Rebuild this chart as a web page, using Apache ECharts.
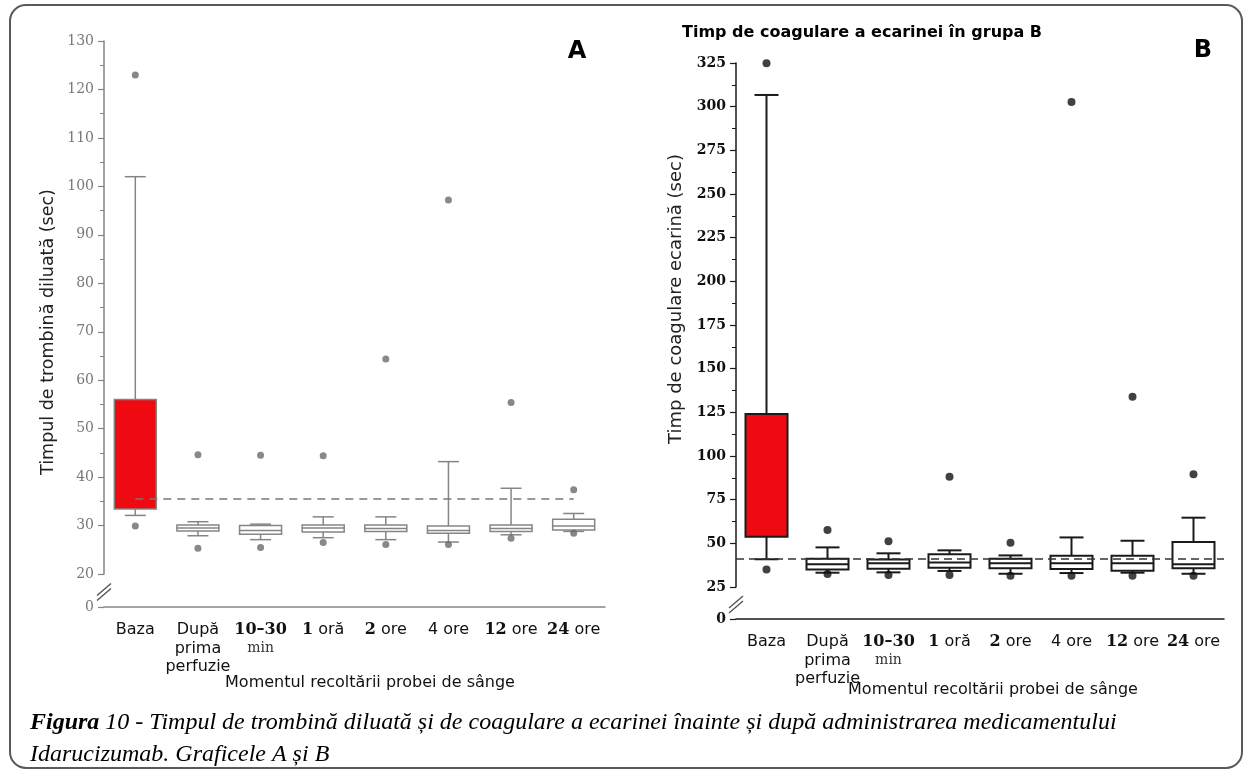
<!DOCTYPE html>
<html><head><meta charset="utf-8">
<script src="https://cdn.jsdelivr.net/npm/echarts@6/dist/echarts.min.js"></script>
<style>html,body{margin:0;padding:0;background:#fff}#c{width:1247px;height:773px}</style>
</head><body><div id="c"></div>
<script>
// ---------- data ----------
const categories = ['Baza', 'După prima perfuzie', '10–30 min', '1 oră', '2 ore', '4 ore', '12 ore', '24 ore'];

// Panel A – Timpul de trombină diluată (sec)
const aLow    = [32.1, 27.9, 27.1, 27.5, 27.1, 26.6, 28.1, 28.8];
const aQ1     = [33.4, 28.9, 28.2, 28.7, 28.8, 28.4, 28.8, 29.1];
const aMedian = [null, 29.5, 29.0, 29.5, 29.4, 29.0, 29.4, 29.9];
const aQ3     = [56.0, 30.1, 30.0, 30.1, 30.1, 29.9, 30.1, 31.3];
const aHigh   = [102.0, 30.8, 30.3, 31.8, 31.8, 43.2, 37.7, 32.5];
const aOutliers = [[0, 123], [0, 29.9], [1, 44.6], [1, 25.3], [2, 44.5], [2, 25.5], [3, 44.4], [3, 26.5],
                   [4, 64.4], [4, 26.1], [5, 97.2], [5, 26.1], [6, 55.4], [6, 27.4], [7, 37.4], [7, 28.4]];
const aReference = 35.5;

// Panel B – Timp de coagulare ecarină (sec)
const bLow    = [40.9, 33.2, 33.4, 34.2, 32.6, 33.0, 33.2, 32.6];
const bQ1     = [53.8, 35.1, 35.5, 36.0, 35.7, 35.3, 34.3, 35.7];
const bMedian = [null, 38.0, 38.6, 39.0, 38.6, 38.6, 38.6, 38.0];
const bQ3     = [124.0, 41.2, 40.8, 43.7, 41.2, 42.9, 42.9, 50.8];
const bHigh   = [306.7, 47.7, 44.3, 46.0, 43.1, 53.4, 51.5, 64.7];
const bOutliers = [[0, 324.8], [0, 35.1], [1, 57.6], [1, 32.4], [2, 51.2], [2, 31.9], [3, 88.2], [3, 31.9],
                   [4, 50.4], [4, 31.5], [5, 302.7], [5, 31.5], [6, 134.0], [6, 31.5], [7, 89.5], [7, 31.5]];
const bReference = 41.4;

// axis ranges
const aAxis = { min: 0, max: 130, interval: 10, breakStart: 0, breakEnd: 20, gap: 6.8 };
const bAxis = { min: 0, max: 325, interval: 25, breakStart: 0, breakEnd: 25, gap: 18.3 };

// ---------- style ----------
const RED = '#ee0a10';
const BASE_INDEX = 0;
const GA = { left: 104, top: 41, width: 501, height: 566 };
const GB = { left: 736, top: 63, width: 488, height: 556 };
const A_COL = '#858585', B_COL = '#1a1a1a';

function boxRows(lo, q1, md, q3, hi) {
  return lo.map((v, i) => [i, lo[i], q1[i], md[i] == null ? NaN : md[i], q3[i], hi[i]]);
}

function makeBox(cfg) {
  return function (params, api) {
    const i = api.value(0);
    const p = d => api.coord([i, api.value(d)]);
    const lo = p(1), q1 = p(2), q3 = p(4), hi = p(5);
    const cx = lo[0], hb = cfg.boxW / 2, hc = cfg.capW / 2;
    const ls = { stroke: cfg.color, lineWidth: cfg.lw, fill: null };
    const ch = [
      { type: 'line', shape: { x1: cx, y1: hi[1], x2: cx, y2: q3[1] }, style: ls },
      { type: 'line', shape: { x1: cx, y1: q1[1], x2: cx, y2: lo[1] }, style: ls },
      { type: 'line', shape: { x1: cx - hc, y1: hi[1], x2: cx + hc, y2: hi[1] }, style: ls },
      { type: 'line', shape: { x1: cx - hc, y1: lo[1], x2: cx + hc, y2: lo[1] }, style: ls },
      { type: 'rect', shape: { x: cx - hb, y: q3[1], width: 2 * hb, height: q1[1] - q3[1] },
        style: { fill: i === BASE_INDEX ? RED : '#fff', stroke: cfg.color, lineWidth: cfg.lw } }
    ];
    const m = api.value(3);
    if (!isNaN(m)) {
      const mp = p(3);
      ch.push({ type: 'line', shape: { x1: cx - hb, y1: mp[1], x2: cx + hb, y2: mp[1] }, style: ls });
    }
    return { type: 'group', children: ch };
  };
}

const labelMap = {
  'Baza': 'Baza',
  'După prima perfuzie': 'După\nprima\nperfuzie',
  '10–30 min': '{b|10–30}\n{m|min}',
  '1 oră': '{b|1}{s| oră}',
  '2 ore': '{b|2}{s| ore}',
  '4 ore': '{s|4 ore}',
  '12 ore': '{b|12}{s| ore}',
  '24 ore': '{b|24}{s| ore}'
};
const catRich = {
  b: { fontFamily: 'DejaVu Serif', fontWeight: 'bold', fontSize: 16, color: '#111', lineHeight: 18.5 },
  m: { fontFamily: 'DejaVu Serif', fontSize: 14, color: '#333', lineHeight: 18.5 },
  s: { fontFamily: 'DejaVu Sans', fontSize: 16, color: '#111', lineHeight: 18.5 }
};

function xAxisCfg(gi, col) {
  return {
    gridIndex: gi, type: 'category', data: categories,
    axisLine: { lineStyle: { color: col, width: 1.5 } },
    axisTick: { alignWithLabel: true, length: 6, lineStyle: { color: col, width: 1.2 } },
    splitLine: { show: false },
    axisLabel: { interval: 0, margin: 14, color: '#111', fontFamily: 'DejaVu Sans', fontSize: 16,
      lineHeight: 18.5, formatter: v => labelMap[v], rich: catRich }
  };
}
function yAxisCfg(gi, ax, col, labCol, weight) {
  return {
    gridIndex: gi, type: 'value', min: ax.min, max: ax.max, interval: ax.interval,
    breaks: [{ start: ax.breakStart, end: ax.breakEnd, gap: ax.gap }],
    breakArea: { show: true, itemStyle: { color: 'rgba(0,0,0,0)', borderColor: 'rgba(0,0,0,0)', borderWidth: 0 } },
    axisLine: { show: true, lineStyle: { color: col, width: 1.5 } },
    axisTick: { show: true, length: 6, lineStyle: { color: col, width: 1.2 } },
    minorTick: { show: true, splitNumber: 2, length: 4, lineStyle: { color: col, width: 1 } },
    splitLine: { show: false },
    axisLabel: { color: labCol, fontFamily: 'DejaVu Serif', fontSize: 14, fontWeight: weight, margin: 10 }
  };
}

const chart = echarts.init(document.getElementById('c'), null, { renderer: 'canvas' });

const option = {
  animation: false,
  backgroundColor: '#fff',
  grid: [
    Object.assign({ containLabel: false }, GA),
    Object.assign({ containLabel: false }, GB)
  ],
  xAxis: [xAxisCfg(0, A_COL), xAxisCfg(1, B_COL)],
  yAxis: [yAxisCfg(0, aAxis, A_COL, '#777', 'normal'), yAxisCfg(1, bAxis, B_COL, '#111', 'bold')],
  series: [
    { type: 'scatter', xAxisIndex: 0, yAxisIndex: 0, data: [], z: 1, silent: true,
      markLine: { silent: true, symbol: 'none', label: { show: false },
        lineStyle: { color: '#777', type: [8, 6], width: 1.5 },
        data: [[{ coord: [categories[0], aReference] }, { coord: [categories[7], aReference] }]] } },
    { type: 'custom', xAxisIndex: 0, yAxisIndex: 0, z: 3, silent: true,
      renderItem: makeBox({ boxW: 42, capW: 21, color: A_COL, lw: 1.5 }),
      encode: { x: 0, y: [1, 2, 4, 5] },
      data: boxRows(aLow, aQ1, aMedian, aQ3, aHigh) },
    { type: 'scatter', xAxisIndex: 0, yAxisIndex: 0, z: 4, silent: true,
      symbol: 'circle', symbolSize: 7, itemStyle: { color: '#6a6a6a' },
      data: aOutliers.map(d => [categories[d[0]], d[1]]) },

    { type: 'custom', xAxisIndex: 1, yAxisIndex: 1, z: 3, silent: true,
      renderItem: makeBox({ boxW: 42, capW: 24, color: B_COL, lw: 2 }),
      encode: { x: 0, y: [1, 2, 4, 5] },
      data: boxRows(bLow, bQ1, bMedian, bQ3, bHigh) },
    { type: 'scatter', xAxisIndex: 1, yAxisIndex: 1, z: 5, silent: true,
      symbol: 'circle', symbolSize: 8, itemStyle: { color: '#111' },
      data: bOutliers.map(d => [categories[d[0]], d[1]]),
      markLine: { silent: true, symbol: 'none', label: { show: false },
        lineStyle: { color: '#333', type: [8, 5], width: 1.5 },
        data: [{ yAxis: bReference }] } }
  ]
};
chart.setOption(option);

// ---------- text & decorations ----------
function breakMark(x, y) {
  return [
    { type: 'polygon', shape: { points: [[x - 7, y + 5], [x + 7, y - 7], [x + 7, y - 2], [x - 7, y + 10]] },
      style: { fill: '#fff' }, z: 50 },
    { type: 'line', shape: { x1: x - 7, y1: y + 5, x2: x + 7, y2: y - 7 }, style: { stroke: '#555', lineWidth: 1.4 }, z: 51 },
    { type: 'line', shape: { x1: x - 7, y1: y + 10, x2: x + 7, y2: y - 2 }, style: { stroke: '#555', lineWidth: 1.4 }, z: 51 }
  ];
}
const ya0 = chart.convertToPixel({ yAxisIndex: 0 }, aAxis.breakStart);
const ya1 = chart.convertToPixel({ yAxisIndex: 0 }, aAxis.breakEnd);
const yb0 = chart.convertToPixel({ yAxisIndex: 1 }, bAxis.breakStart);
const yb1 = chart.convertToPixel({ yAxisIndex: 1 }, bAxis.breakEnd);

const graphics = [
  { type: 'rect', shape: { x: 10, y: 5, width: 1232, height: 763, r: 16 },
    style: { fill: null, stroke: '#5a5a5a', lineWidth: 2 }, z: 0, silent: true },
  { type: 'text', x: 577, y: 52, style: { text: 'A', font: 'bold 24px "DejaVu Sans"', fill: '#000', align: 'center', verticalAlign: 'middle' } },
  { type: 'text', x: 1203, y: 51, style: { text: 'B', font: 'bold 24px "DejaVu Sans"', fill: '#000', align: 'center', verticalAlign: 'middle' } },
  { type: 'text', x: 682, y: 33, style: { text: 'Timp de coagulare a ecarinei în grupa B', font: 'bold 16px "DejaVu Sans"', fill: '#000', align: 'left', verticalAlign: 'middle' } },
  { type: 'text', x: 48, y: 332, rotation: Math.PI / 2, style: { text: 'Timpul de trombină diluată (sec)', font: '17.5px "DejaVu Sans"', fill: '#222', align: 'center', verticalAlign: 'middle' } },
  { type: 'text', x: 676, y: 299, rotation: Math.PI / 2, style: { text: 'Timp de coagulare ecarină (sec)', font: '18px "DejaVu Sans"', fill: '#222', align: 'center', verticalAlign: 'middle' } },
  { type: 'text', x: 370, y: 683, style: { text: 'Momentul recoltării probei de sânge', font: '16px "DejaVu Sans"', fill: '#111', align: 'center', verticalAlign: 'middle' } },
  { type: 'text', x: 993, y: 690, style: { text: 'Momentul recoltării probei de sânge', font: '16px "DejaVu Sans"', fill: '#111', align: 'center', verticalAlign: 'middle' } },
  { type: 'text', x: 30, y: 723, style: {
      text: '{fb|Figura}{fi| 10 - Timpul de trombină diluată și de coagulare a ecarinei înainte și după administrarea medicamentului}',
      rich: { fb: { font: 'italic bold 24px "Liberation Serif"', fill: '#000' }, fi: { font: 'italic 24px "Liberation Serif"', fill: '#000' } },
      align: 'left', verticalAlign: 'middle' } },
  { type: 'text', x: 30, y: 755, style: { text: 'Idarucizumab. Graficele A și B', font: 'italic 24px "Liberation Serif"', fill: '#000', align: 'left', verticalAlign: 'middle' } }
].concat(breakMark(GA.left, (ya0 + ya1) / 2), breakMark(GB.left, (yb0 + yb1) / 2));

chart.setOption({ graphic: graphics });
</script>
</body></html>
